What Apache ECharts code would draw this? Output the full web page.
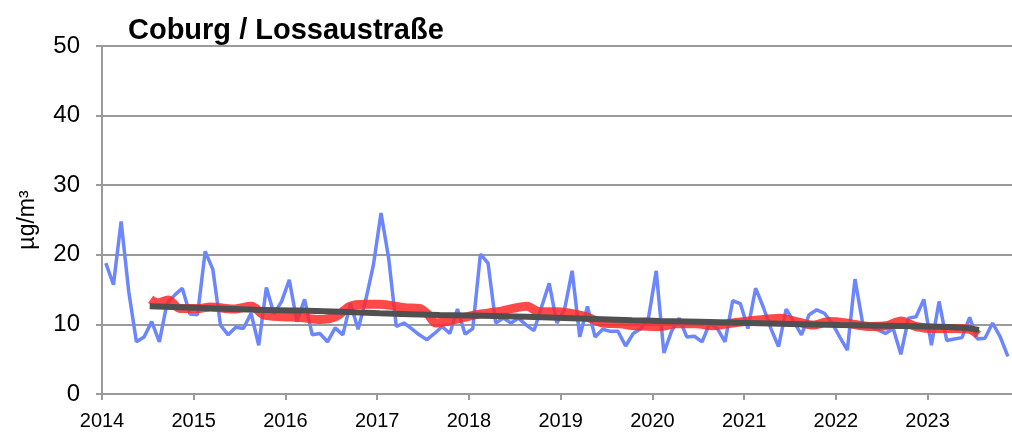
<!DOCTYPE html>
<html><head><meta charset="utf-8">
<script src="https://cdn.jsdelivr.net/npm/echarts@6/dist/echarts.min.js"></script>
<style>html,body{margin:0;padding:0;background:#fff}#c{width:1012px;height:439px}</style>
</head><body><div id="c"></div>
<script>
const titleText = 'Coburg / Lossaustraße';
const yAxisName = 'µg/m³';
const yearTicks = [2014, 2015, 2016, 2017, 2018, 2019, 2020, 2021, 2022, 2023];
const startYear = 2014;
// Monthly means from Jan 2014
const monthly = [18.8,15.7,24.8,14.7,7.5,8.2,10.4,7.5,13.0,14.2,15.2,11.5,
 11.4,20.5,17.9,9.9,8.5,9.6,9.4,11.6,7.0,15.3,11.5,13.3,
 16.4,10.4,13.6,8.5,8.7,7.5,9.5,8.5,13.0,9.3,13.5,18.5,
 26.0,19.5,9.7,10.2,9.4,8.5,7.8,8.7,9.7,8.7,12.2,8.6,
 9.4,20.1,18.8,10.2,10.9,10.2,10.9,9.9,9.1,12.5,15.9,10.2,
 12.1,17.7,8.2,12.6,8.2,9.3,9.0,9.0,6.9,8.7,9.4,11.0,
 17.7,5.9,9.0,10.9,8.2,8.3,7.5,10.2,9.4,7.5,13.4,13.0,
 9.4,15.2,12.5,9.4,6.8,12.2,10.4,8.5,11.4,12.1,11.6,10.2,
 8.2,6.3,16.5,10.2,9.7,9.2,8.7,9.4,5.7,10.9,11.1,13.6,
 7.0,13.3,7.7,7.9,8.1,11.0,7.9,8.0,10.2,8.2,5.4];
// Running mean: [year, value]
const runningMean = [[2014.53,13.6],[2014.61,13.1],[2014.72,13.5],[2014.85,12.3],[2015.07,12.3],[2015.18,12.5],
 [2015.43,12.2],[2015.63,12.6],[2015.76,11.4],[2015.97,11.1],[2016.16,11.0],[2016.37,10.7],[2016.56,11.2],
 [2016.70,12.6],[2016.86,12.9],[2017.03,12.9],[2017.30,12.4],[2017.46,12.3],[2017.55,11.5],[2017.64,10.2],
 [2017.79,10.5],[2018.08,11.4],[2018.30,11.8],[2018.48,12.3],[2018.63,12.6],[2018.77,11.8],[2018.93,11.8],
 [2019.10,11.6],[2019.28,11.1],[2019.46,10.2],[2019.64,10.1],[2019.82,9.8],[2020.08,9.7],[2020.26,10.1],
 [2020.48,10.1],[2020.66,9.8],[2020.87,10.2],[2021.13,10.6],[2021.39,10.9],[2021.57,10.4],[2021.75,9.9],
 [2021.93,10.4],[2022.11,10.2],[2022.37,9.7],[2022.55,9.8],[2022.71,10.5],[2022.87,9.7],[2023.09,9.4],
 [2023.31,9.4],[2023.46,9.3],[2023.55,8.5]];
// Trend
const trend = [[2014.52,12.6],[2015.67,12.1],[2016.16,12.0],[2017.03,11.6],[2017.68,11.35],[2018.63,11.1],
 [2019.78,10.6],[2020.08,10.5],[2020.95,10.25],[2022.04,9.9],[2023.02,9.7],[2023.40,9.5],[2023.56,9.2]];

const monthlyData = monthly.map((v, i) => [startYear + (i + 0.5) / 12, v]);
const font = 'Liberation Sans, Arial, sans-serif';
const chart = echarts.init(document.getElementById('c'), null, {renderer: 'canvas'});
chart.setOption({
  animation: false,
  backgroundColor: '#fff',
  title: {text: titleText, left: 123, top: 11, textStyle: {fontFamily: font, fontSize: 29, fontWeight: 'bold', color: '#000'}},
  grid: {left: 102, right: 0, top: 46, bottom: 45},
  xAxis: {
    type: 'value', min: yearTicks[0], max: 2023.92, interval: 1,
    axisLine: {lineStyle: {color: '#9a9a9a', width: 2}},
    axisTick: {show: true, length: 6, lineStyle: {color: '#9a9a9a', width: 2}},
    axisLabel: {fontFamily: font, fontSize: 20, color: '#000', margin: 17, showMaxLabel: false,
      formatter: v => yearTicks.includes(v) ? String(v) : ''},
    splitLine: {show: false}
  },
  yAxis: {
    type: 'value', min: 0, max: 50, interval: 10,
    name: yAxisName, nameLocation: 'middle', nameGap: 63, nameRotate: 90,
    nameTextStyle: {fontFamily: font, fontSize: 23, color: '#000'},
    axisLine: {show: true, lineStyle: {color: '#9a9a9a', width: 2}},
    axisTick: {show: true, length: 6, lineStyle: {color: '#9a9a9a', width: 2}},
    axisLabel: {fontFamily: font, fontSize: 24, color: '#000', margin: 22},
    splitLine: {show: true, lineStyle: {color: '#9a9a9a', width: 2}}
  },
  series: [
    {type: 'line', data: monthlyData, symbol: 'none', lineStyle: {color: '#6b86ff', width: 3.5}, z: 2},
    {type: 'line', data: runningMean, symbol: 'none', smooth: 0.3, lineStyle: {color: 'rgba(255,40,40,0.85)', width: 9}, z: 3},
    {type: 'line', data: trend, symbol: 'none', smooth: 0.3, lineStyle: {color: '#505050', width: 6}, z: 4}
  ]
});
</script></body></html>
